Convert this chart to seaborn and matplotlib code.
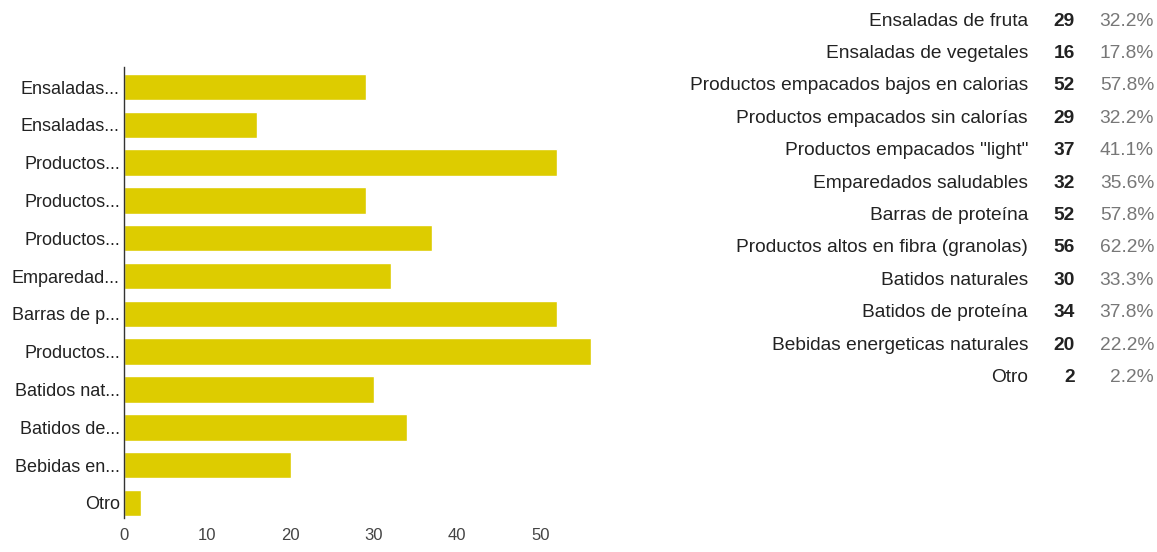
import matplotlib
matplotlib.use("Agg")
import matplotlib.pyplot as plt
import seaborn as sns
import pandas as pd

categories = ["Ensaladas de fruta", "Ensaladas de vegetales",
              "Productos empacados bajos en calorias", "Productos empacados sin calorías",
              "Productos empacados \"light\"", "Emparedados saludables", "Barras de proteína",
              "Productos altos en fibra (granolas)", "Batidos naturales", "Batidos de proteína",
              "Bebidas energeticas naturales", "Otro"]
short_labels = ["Ensaladas...", "Ensaladas...", "Productos...", "Productos...", "Productos...",
                "Emparedad...", "Barras de p...", "Productos...", "Batidos nat...", "Batidos de...",
                "Bebidas en...", "Otro"]
counts = [29, 16, 52, 29, 37, 32, 52, 56, 30, 34, 20, 2]
percents = ["32.2%", "17.8%", "57.8%", "32.2%", "41.1%", "35.6%", "57.8%", "62.2%",
            "33.3%", "37.8%", "22.2%", "2.2%"]
x_ticks = [0, 10, 20, 30, 40, 50]

sns.set_theme(style="white")
plt.rcParams['font.family'] = ['Liberation Sans', 'DejaVu Sans']

df = pd.DataFrame({"cat": categories, "count": counts})

fig = plt.figure(figsize=(11.57, 5.52), dpi=100)
ax = fig.add_axes([124/1157, 1 - 518/552, 500/1157, (518-67)/552])
sns.barplot(data=df, x="count", y="cat", orient="h", color="#DDCC00", saturation=1,
            width=0.7, ax=ax)
ax.set_xlim(0, 60)
ax.set_ylim(len(categories) - 0.6, -0.53)
ax.set_xticks(x_ticks)
ax.set_xticklabels([str(t) for t in x_ticks], fontsize=12, color="#444444")
ax.set_yticks(range(len(categories)))
ax.set_yticklabels(short_labels, fontsize=13, color="#222222")
ax.tick_params(axis="both", length=0, pad=3)
ax.tick_params(axis="x", pad=7)
ax.set_xlabel("")
ax.set_ylabel("")
for s in ["top", "right", "bottom"]:
    ax.spines[s].set_visible(False)
ax.spines["left"].set_color("#333333")
ax.spines["left"].set_linewidth(1)

# right-side summary table
y0 = 21
dy = 32.4
for i, (c, n, p) in enumerate(zip(categories, counts, percents)):
    y = 1 - (y0 + i * dy) / 552
    fig.text(1028/1157, y, c, ha="right", va="center", fontsize=13.8, color="#222222")
    fig.text(1075/1157, y, str(n), ha="right", va="center", fontsize=13.8,
             fontweight="bold", color="#222222")
    fig.text(1154/1157, y, p, ha="right", va="center", fontsize=13.8, color="#777777")

fig.savefig("out.png", dpi=100)
